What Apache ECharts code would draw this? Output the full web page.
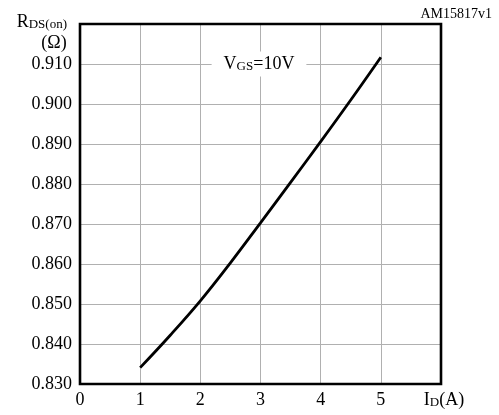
<!DOCTYPE html>
<html><head><meta charset="utf-8">
<script src="https://cdn.jsdelivr.net/npm/echarts@6/dist/echarts.min.js"></script>
<style>html,body{margin:0;padding:0;background:#fff}#c{width:499px;height:415px}</style>
</head><body><div id="c"></div>
<script>
var currentA = [1, 1.5, 2, 2.5, 3, 3.5, 4, 4.5, 5];
var rdsOn = [0.8341, 0.8422, 0.8508, 0.8603, 0.8703, 0.8804, 0.8906, 0.9010, 0.9117];
var xTicks = ['0', '1', '2', '3', '4', '5'];
var yTicks = ['0.830', '0.840', '0.850', '0.860', '0.870', '0.880', '0.890', '0.900', '0.910'];

var FONT = "'Liberation Serif','Times New Roman',serif";
var chart = echarts.init(document.getElementById('c'), null, {renderer: 'canvas'});
var data = currentA.map(function (x, i) { return [x, rdsOn[i]]; });

chart.setOption({
  animation: false,
  backgroundColor: '#fff',
  grid: {left: 80, top: 24, right: 58, bottom: 31, show: true, borderColor: '#000', borderWidth: 2.6, z: 5},
  xAxis: {
    type: 'value', min: 0, max: 6, interval: 1,
    axisLine: {show: false}, axisTick: {show: false},
    splitLine: {show: true, lineStyle: {color: '#b0b0b0', width: 1}},
    axisLabel: {
      margin: 7, color: '#000', fontFamily: FONT, fontSize: 18,
      formatter: function (v) { var i = Math.round(v); return i < xTicks.length ? xTicks[i] : ''; }
    }
  },
  yAxis: {
    type: 'value', min: 0.83, max: 0.92, interval: 0.01,
    axisLine: {show: false}, axisTick: {show: false},
    splitLine: {show: true, lineStyle: {color: '#b0b0b0', width: 1}},
    axisLabel: {
      margin: 8, color: '#000', fontFamily: FONT, fontSize: 18,
      formatter: function (v) { var i = Math.round((v - 0.83) / 0.01); return i < yTicks.length ? yTicks[i] : ''; }
    }
  },
  series: [{
    type: 'line', data: data, smooth: 0.4, showSymbol: false,
    lineStyle: {color: '#000', width: 2.8}, z: 3
  }],
  graphic: [
    {type: 'text', x: 67, y: 22, z: 10, style: {
      text: '{a|R}{b|DS(on)}', align: 'right', verticalAlign: 'middle',
      rich: {a: {fontFamily: FONT, fontSize: 18, fill: '#000', verticalAlign: 'bottom'},
             b: {fontFamily: FONT, fontSize: 13, fill: '#000', verticalAlign: 'bottom'}}
    }},
    {type: 'text', x: 54, y: 43, z: 10, style: {
      text: '(Ω)', align: 'center', verticalAlign: 'middle',
      font: '18px ' + FONT, fill: '#000'
    }},
    {type: 'text', x: 259, y: 64, z: 10, style: {
      text: '{a|V}{b|GS}{a|=10V}', align: 'center', verticalAlign: 'middle',
      backgroundColor: '#fff', padding: [4, 12, 3, 12],
      rich: {a: {fontFamily: FONT, fontSize: 18, fill: '#000', verticalAlign: 'bottom'},
             b: {fontFamily: FONT, fontSize: 13, fill: '#000', verticalAlign: 'bottom'}}
    }},
    {type: 'text', x: 444, y: 400, z: 10, style: {
      text: '{a|I}{b|D}{a|(A)}', align: 'center', verticalAlign: 'middle',
      rich: {a: {fontFamily: FONT, fontSize: 18, fill: '#000', verticalAlign: 'bottom'},
             b: {fontFamily: FONT, fontSize: 13, fill: '#000', verticalAlign: 'bottom'}}
    }},
    {type: 'text', x: 492, y: 14, z: 10, style: {
      text: 'AM15817v1', align: 'right', verticalAlign: 'middle',
      font: '14px ' + FONT, fill: '#000'
    }}
  ]
});
</script></body></html>
